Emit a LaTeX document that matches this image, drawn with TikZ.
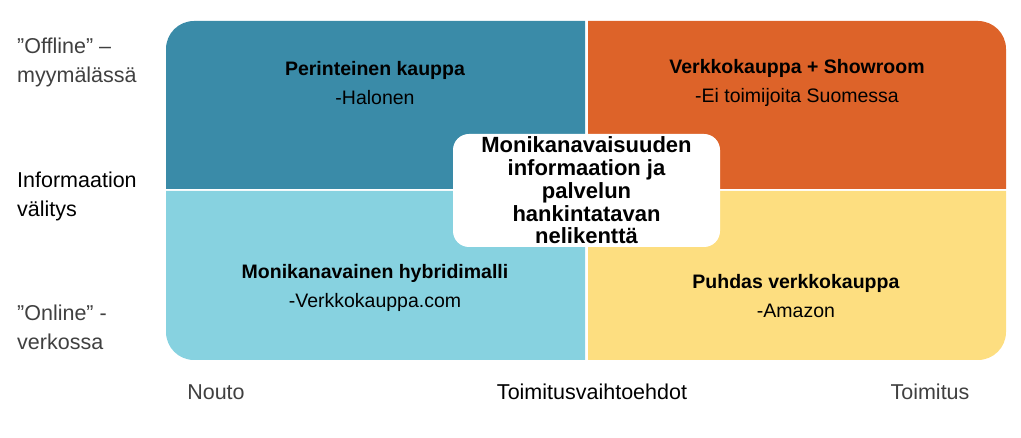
\documentclass[tikz,border=0pt]{standalone}
\usepackage{fontspec}
\setmainfont{Liberation Sans}
\definecolor{qtl}{HTML}{3A8BA8}
\definecolor{qtr}{HTML}{DD6329}
\definecolor{qbl}{HTML}{87D2E0}
\definecolor{qbr}{HTML}{FDDE80}
\definecolor{lblgray}{HTML}{404040}
\tikzset{
  quadtext/.style={align=center, font=\fontsize{19.5}{29}\selectfont, text=black, inner sep=0pt},
  sidelabel/.style={align=left, anchor=west, font=\fontsize{21.5}{29}\selectfont, inner sep=0pt},
  axislabel/.style={font=\fontsize{21.5}{26}\selectfont, inner sep=0pt},
  centerbox/.style={fill=white, rounded corners=16pt, align=center, inner sep=0pt,
    font=\fontsize{22}{22.8}\selectfont\bfseries}
}
\begin{document}
\begin{tikzpicture}[x=1pt,y=-1pt]
\useasboundingbox (0,0) rectangle (1021,438);
% quadrants
\fill[qtl] (585,189) -- (166,189) [rounded corners=28pt]-- (166,21) [sharp corners]-- (585,21) -- cycle;
\fill[qtr] (588,21) [rounded corners=28pt]-- (1006,21) [sharp corners]-- (1006,189) -- (588,189) -- cycle;
\fill[qbl] (166,191) -- (585,191) -- (585,360) [rounded corners=28pt]-- (166,360) [sharp corners]-- cycle;
\fill[qbr] (588,191) -- (1006,191) [rounded corners=28pt]-- (1006,360) [sharp corners]-- (588,360) -- cycle;
% quadrant texts
\node[quadtext] (tl) at (375,83) {\textbf{Perinteinen kauppa}\\-Halonen};
\node[quadtext] (tr) at (797,83) {\textbf{Verkkokauppa + Showroom}\\-Ei toimijoita Suomessa};
\node[quadtext] (bl) at (375,288) {\textbf{Monikanavainen hybridimalli}\\-Verkkokauppa.com};
\node[quadtext] (br) at (796,296) {\textbf{Puhdas verkkokauppa}\\-Amazon};
% center box
\node[centerbox, minimum width=267pt, minimum height=113pt] (center) at (586.5,190.5)
  {Monikanavaisuuden\\informaation ja\\palvelun\\hankintatavan\\nelikenttä};
% side labels
\node[sidelabel, text=lblgray] (off) at (17,62) {”Offline” –\\myymälässä};
\node[sidelabel, text=black] (info) at (17,196) {Informaation\\välitys};
\node[sidelabel, text=lblgray] (on) at (17,327) {”Online” -\\verkossa};
% bottom labels
\node[axislabel, text=lblgray] (nouto) at (216,392) {Nouto};
\node[axislabel, text=black] (toim) at (592,392) {Toimitusvaihtoehdot};
\node[axislabel, text=lblgray] (toimitus) at (930,392) {Toimitus};
\end{tikzpicture}
\end{document}
